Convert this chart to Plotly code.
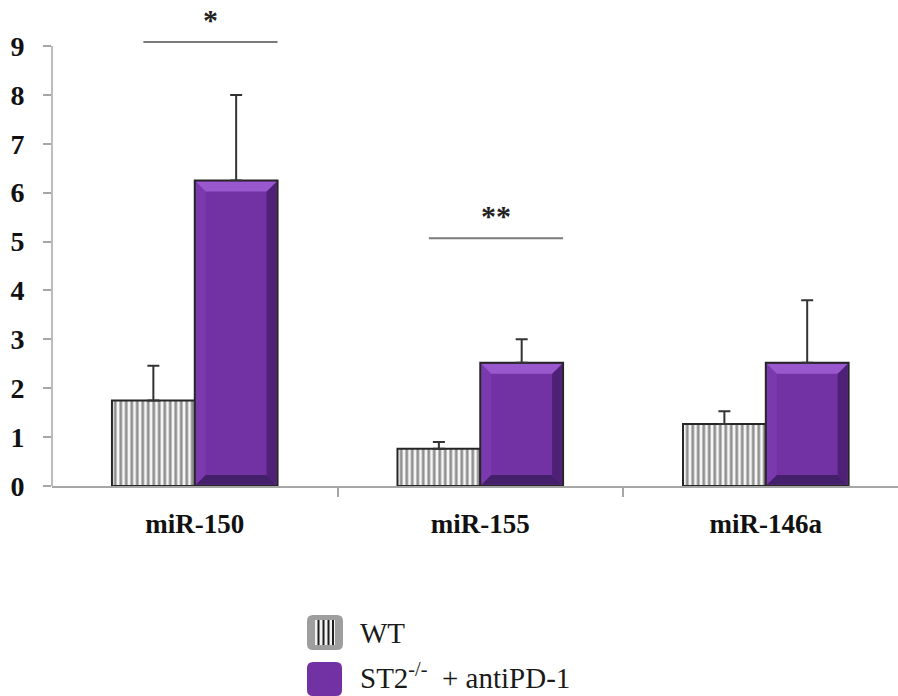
import plotly.graph_objects as go

# ---- data -------------------------------------------------------------
categories = ["miR-150", "miR-155", "miR-146a"]
wt_values = [1.75, 0.76, 1.27]
wt_err = [0.71, 0.14, 0.26]
st2_values = [6.25, 2.52, 2.52]
st2_err = [1.75, 0.48, 1.28]
y_ticks = [0, 1, 2, 3, 4, 5, 6, 7, 8, 9]

# significance brackets: (category index, label)
sig_marks = [(0, "*"), (1, "**")]
sig_levels = [9.08, 5.07]

# ---- layout geometry ----------------------------------------------------
W, H = 898, 696
ML, MR, MT, MB = 52, 0, 2, 210
X_RANGE = [-0.5, 2.463]
Y_RANGE = [0, 9.9]
PLOT_W = W - ML - MR
PLOT_H = H - MT - MB
DX = (X_RANGE[1] - X_RANGE[0]) / PLOT_W   # data units per pixel (x)
DY = (Y_RANGE[1] - Y_RANGE[0]) / PLOT_H   # data units per pixel (y)

BARGAP = 0.42
BAR_W = (1 - BARGAP) / 2

SERIF = "Liberation Serif, Times New Roman, serif"
PURPLE = "#7232A4"
OUTLINE = "#262626"
AXIS_GREY = "#A6A6A6"

xs = list(range(len(categories)))

fig = go.Figure()

fig.add_trace(go.Bar(
    x=xs, y=wt_values, name="WT",
    marker=dict(
        color="white",
        line=dict(color=OUTLINE, width=2),
        pattern=dict(shape="|", fgcolor="#2a2a2a", bgcolor="#f6f6f6",
                     size=5.5, solidity=0.5),
    ),
    error_y=dict(type="data", symmetric=False, array=wt_err,
                 arrayminus=[0] * len(wt_err),
                 color="#333333", thickness=2, width=6),
    showlegend=False,
))

fig.add_trace(go.Bar(
    x=xs, y=st2_values, name="ST2-/- + antiPD-1",
    marker=dict(color=PURPLE, line=dict(color=OUTLINE, width=2)),
    error_y=dict(type="data", symmetric=False, array=st2_err,
                 arrayminus=[0] * len(st2_err),
                 color="#333333", thickness=2, width=6),
    showlegend=False,
))

shapes = []
annotations = []


def poly(pts, color):
    path = "M " + " L ".join(f"{x},{y}" for x, y in pts) + " Z"
    return dict(type="path", path=path, xref="x", yref="y",
                fillcolor=color, line=dict(width=0), layer="above")


# bevelled faces on the purple bars
B, E = 11, 1.2
for c, v in zip(xs, st2_values):
    x0, x1 = c, c + BAR_W
    X0, X1 = x0 + E * DX, x1 - E * DX
    Y0, Y1 = E * DY, v - E * DY
    ix0, ix1 = x0 + B * DX, x1 - B * DX
    iy0, iy1 = B * DY, v - B * DY
    shapes.append(poly([(X0, Y0), (X0, Y1), (ix0, iy1), (ix0, iy0)], "#7B39AE"))
    shapes.append(poly([(X1, Y0), (X1, Y1), (ix1, iy1), (ix1, iy0)], "#4F2176"))
    shapes.append(poly([(X0, Y0), (X1, Y0), (ix1, iy0), (ix0, iy0)], "#45206A"))
    shapes.append(poly([(X0, Y1), (X1, Y1), (ix1, iy1), (ix0, iy1)], "#9A58CE"))

# y axis line from 0 to the top tick
shapes.append(dict(type="line", xref="paper", yref="y", x0=0, x1=0,
                   y0=0, y1=y_ticks[-1], line=dict(color=AXIS_GREY, width=1.5)))

# significance brackets
for (ci, label), lvl in zip(sig_marks, sig_levels):
    xa, xb = ci - 0.18, ci + 0.29
    shapes.append(dict(type="line", xref="x", yref="y", x0=xa, x1=xb,
                       y0=lvl, y1=lvl, line=dict(color="#7a7a7a", width=2)))
    annotations.append(dict(x=(xa + xb) / 2, y=lvl + 0.46, xref="x", yref="y",
                            text=f"<b>{label}</b>", showarrow=False, yanchor="middle",
                            font=dict(family=SERIF, size=30, color="#222222")))


# manual legend (pixel positions converted to paper coords)
def px(xp):
    return (xp - ML) / PLOT_W


def py(yp):
    return (H - MB - yp) / PLOT_H


def rounded_rect(x0, y0, x1, y1, r, color):
    path = (f"M {px(x0 + r)},{py(y0)} L {px(x1 - r)},{py(y0)} "
            f"Q {px(x1)},{py(y0)} {px(x1)},{py(y0 + r)} "
            f"L {px(x1)},{py(y1 - r)} Q {px(x1)},{py(y1)} {px(x1 - r)},{py(y1)} "
            f"L {px(x0 + r)},{py(y1)} Q {px(x0)},{py(y1)} {px(x0)},{py(y1 - r)} "
            f"L {px(x0)},{py(y0 + r)} Q {px(x0)},{py(y0)} {px(x0 + r)},{py(y0)} Z")
    return dict(type="path", path=path, xref="paper", yref="paper",
                fillcolor=color, line=dict(width=0), layer="above")


shapes.append(rounded_rect(307, 615, 343, 650, 6, "#9E9E9E"))
shapes.append(dict(type="rect", xref="paper", yref="paper",
                   x0=px(315), x1=px(335), y0=py(645), y1=py(620),
                   fillcolor="#f2f2f2", line=dict(width=0), layer="above"))
for sx in [318.5, 323.5, 328.5, 333]:
    shapes.append(dict(type="line", xref="paper", yref="paper",
                       x0=px(sx), x1=px(sx), y0=py(645), y1=py(620),
                       line=dict(color="#1e1e1e", width=2), layer="above"))
shapes.append(rounded_rect(307, 662, 342, 696, 6, PURPLE))

annotations.append(dict(x=px(358), y=py(633), xref="paper", yref="paper",
                        text="WT", showarrow=False, xanchor="left", yanchor="middle",
                        font=dict(family=SERIF, size=29, color="#1a1a1a")))
annotations.append(dict(x=px(358), y=py(676), xref="paper", yref="paper",
                        text="ST2<sup>-/-</sup>  + antiPD-1", showarrow=False,
                        xanchor="left", yanchor="middle",
                        font=dict(family=SERIF, size=29, color="#1a1a1a")))

fig.update_layout(
    width=W, height=H,
    margin=dict(l=ML, r=MR, t=MT, b=MB, pad=0),
    paper_bgcolor="white", plot_bgcolor="white",
    barmode="group", bargap=BARGAP, bargroupgap=0,
    shapes=shapes, annotations=annotations,
    showlegend=False,
    xaxis=dict(
        range=X_RANGE, tickvals=xs,
        ticktext=[f"<b>{c}</b>" for c in categories],
        ticks="", showgrid=False, zeroline=False,
        showline=True, linecolor=AXIS_GREY, linewidth=2,
        tickfont=dict(family=SERIF, size=27, color="#111111"),
        ticklabelstandoff=13,
        minor=dict(tickvals=[0.5, 1.5], ticks="outside", ticklen=9,
                   tickcolor=AXIS_GREY, tickwidth=1.5, showgrid=False),
    ),
    yaxis=dict(
        range=Y_RANGE, tickvals=y_ticks,
        ticktext=[f"<b>{t}</b>" for t in y_ticks],
        ticks="outside", ticklen=8, tickcolor=AXIS_GREY, tickwidth=1.5,
        showgrid=False, zeroline=False, showline=False,
        tickfont=dict(family=SERIF, size=28, color="#111111"),
        ticklabelstandoff=13,
    ),
)

fig.write_html("out.html")
